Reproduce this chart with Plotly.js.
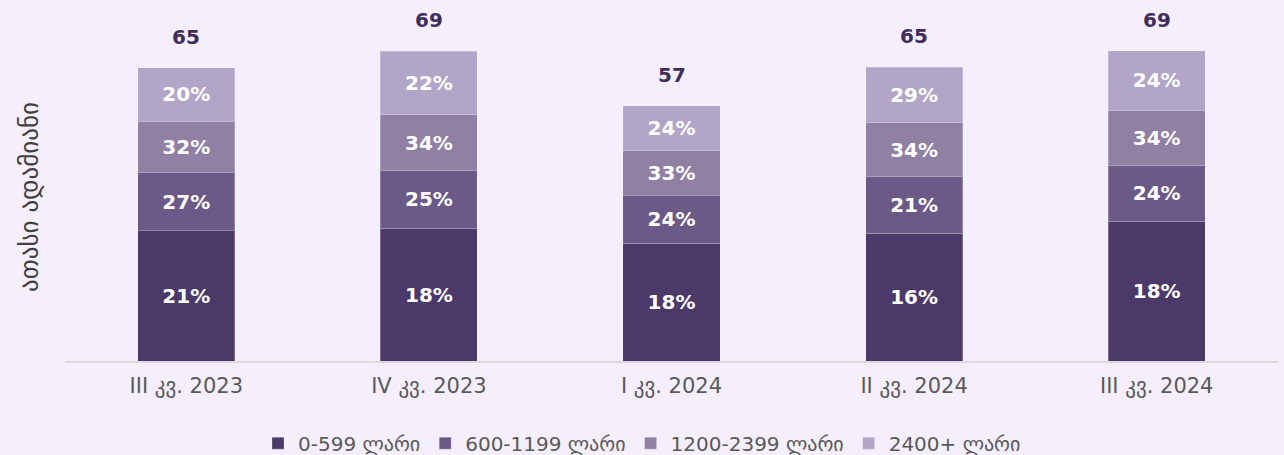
<!DOCTYPE html>
<html>
<head>
<meta charset="utf-8">
<script src="https://cdn.plot.ly/plotly-3.0.1.min.js"></script>
<style>html,body{margin:0;padding:0;background:#f5effd;}#chart{width:1284px;height:455px;}</style>
</head>
<body>
<div id="chart"></div>
<script>
const categories = ["III კვ. 2023", "IV კვ. 2023", "I კვ. 2024", "II კვ. 2024", "III კვ. 2024"];
const seriesNames = ["0-599 ლარი", "600-1199 ლარი", "1200-2399 ლარი", "2400+ ლარი"];
const s0_599 = [28.9, 29.5, 26.2, 28.4, 31.1];
const s600_1199 = [12.9, 12.8, 10.6, 12.6, 12.4];
const s1200_2399 = [11.5, 12.4, 10.0, 11.9, 12.2];
const s2400 = [11.9, 14.1, 9.9, 12.4, 13.3];
const pct0_599 = ["21%", "18%", "18%", "16%", "18%"];
const pct600_1199 = ["27%", "25%", "24%", "21%", "24%"];
const pct1200_2399 = ["32%", "34%", "33%", "34%", "34%"];
const pct2400 = ["20%", "22%", "24%", "29%", "24%"];
const totals = [65, 69, 57, 65, 69];
const yTitle = "ათასი ადამიანი";

const colors = ["#4b3a69", "#6b5a87", "#8f80a4", "#b1a6c7"];
const values = [s0_599, s600_1199, s1200_2399, s2400];
const labels = [pct0_599, pct600_1199, pct1200_2399, pct2400];

const traces = values.map((v, i) => ({
  type: "bar",
  name: seriesNames[i],
  x: categories,
  y: v,
  text: labels[i],
  texttemplate: "%{text}",
  textposition: "inside",
  insidetextanchor: "middle",
  textangle: 0,
  constraintext: "none",
  textfont: {family: "DejaVu Sans", size: 20, color: "#ffffff", weight: "bold"},
  marker: {color: colors[i], line: {color: "rgba(255,255,255,0.25)", width: 1}},
  hoverinfo: "skip"
}));

const stackTops = categories.map((c, j) => values.reduce((a, v) => a + v[j], 0));
const annotations = categories.map((c, j) => ({
  x: c,
  y: stackTops[j],
  xref: "x",
  yref: "y",
  text: String(totals[j]),
  showarrow: false,
  yanchor: "bottom",
  yshift: 17,
  font: {family: "DejaVu Sans", size: 20, color: "#3f2d5c", weight: "bold"}
}));

const layout = {
  width: 1284,
  height: 455,
  barmode: "stack",
  bargap: 0.6,
  paper_bgcolor: "#f5effd",
  plot_bgcolor: "#f5effd",
  margin: {l: 65, r: 6, t: 33, b: 94, autoexpand: false},
  font: {family: "DejaVu Sans", color: "#595959"},
  annotations: annotations,
  xaxis: {
    type: "category",
    showline: true,
    linecolor: "#d9d9d9",
    linewidth: 1.5,
    ticks: "",
    ticklabelstandoff: 5,
    tickfont: {family: "DejaVu Sans", size: 21, color: "#595959"},
    fixedrange: true
  },
  yaxis: {
    range: [0, 72.9],
    showgrid: false,
    zeroline: false,
    showticklabels: false,
    ticks: "",
    title: {text: yTitle, font: {family: "DejaVu Sans", size: 25, color: "#404040"}, standoff: 18},
    fixedrange: true
  },
  legend: {
    orientation: "h",
    x: 0.5,
    xref: "container",
    xanchor: "center",
    y: 0.026,
    yref: "container",
    yanchor: "middle",
    font: {family: "DejaVu Sans", size: 20, color: "#595959"},
    traceorder: "normal",
    itemwidth: 30
  },
  showlegend: true
};

Plotly.newPlot("chart", traces, layout, {displayModeBar: false, staticPlot: true});
</script>
</body>
</html>
